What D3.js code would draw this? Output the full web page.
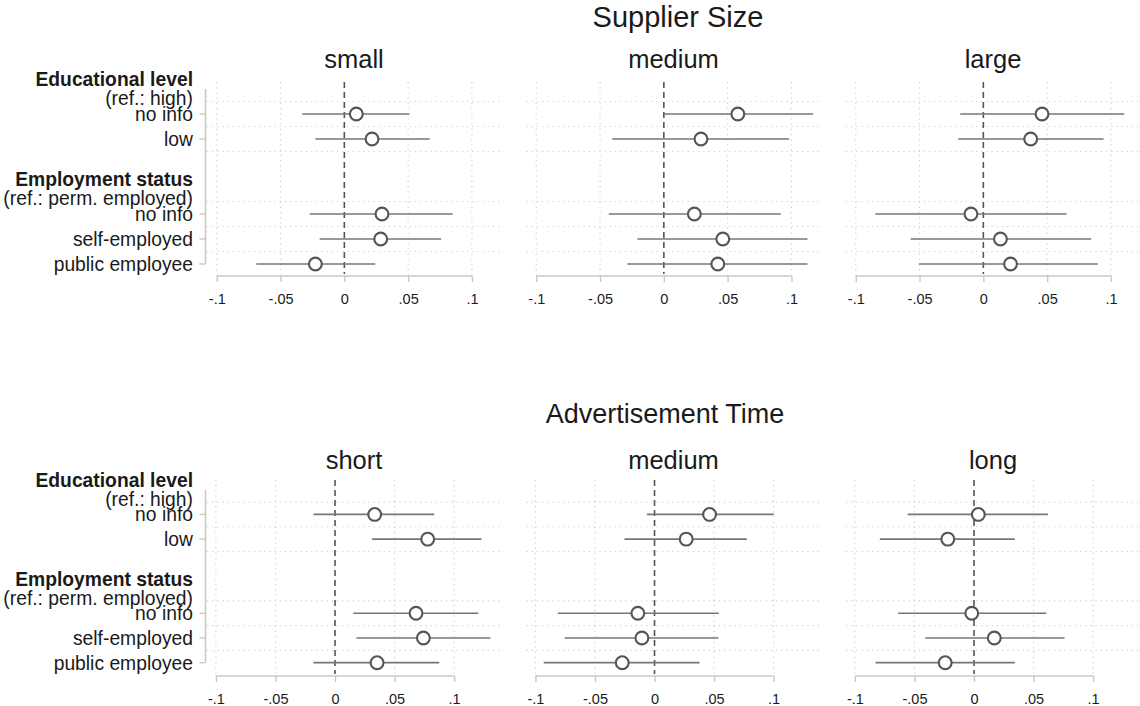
<!DOCTYPE html>
<html>
<head>
<meta charset="utf-8">
<script src="https://cdn.jsdelivr.net/npm/d3@7"></script>
<style>
  body { margin: 0; background: #fff; }
  text { font-family: Arial, "Liberation Sans", sans-serif; fill: #1a1a1a; }
</style>
</head>
<body>
<script>
// coefficient plot, two rows of three panels

var width = 1140,
    height = 706;

// data
var sizePanels = ["small", "medium", "large"];
var timePanels = ["short", "medium", "long"];
var tickValues = [-0.1, -0.05, 0, 0.05, 0.1];
var tickLabels = ["-.1", "-.05", "0", ".05", ".1"];
var slots = ["h_edu", "edu_noinfo", "edu_low", "gap", "h_emp", "emp_noinfo", "emp_self", "emp_public"];
var coefSlots = ["edu_noinfo", "edu_low", "emp_noinfo", "emp_self", "emp_public"];
var coefLabels = ["no info", "low", "no info", "self-employed", "public employee"];
var headings = [
  { slot: "h_edu", lines: ["Educational level", "(ref.: high)"] },
  { slot: "h_emp", lines: ["Employment status", "(ref.: perm. employed)"] }
];

// supplier size: small, medium, large
var sizeEst = [
  [0.0094, 0.0217, 0.0295, 0.0285, -0.0227],
  [0.058, 0.0291, 0.0239, 0.0462, 0.0423],
  [0.046, 0.0371, -0.0097, 0.0134, 0.0213]
];
var sizeLo = [
  [-0.033, -0.0227, -0.0272, -0.0194, -0.069],
  [0.0002, -0.0404, -0.0431, -0.0207, -0.0286],
  [-0.0181, -0.0197, -0.0846, -0.057, -0.0505]
];
var sizeHi = [
  [0.051, 0.0669, 0.0849, 0.0758, 0.0243],
  [0.117, 0.0982, 0.0916, 0.1126, 0.1126],
  [0.1104, 0.0942, 0.0652, 0.0845, 0.0897]
];

// advertisement time: short, medium, long
var timeEst = [
  [0.0333, 0.0778, 0.068, 0.0742, 0.0353],
  [0.0462, 0.0266, -0.014, -0.0106, -0.0271],
  [0.0036, -0.022, -0.0019, 0.017, -0.0242]
];
var timeLo = [
  [-0.0181, 0.0311, 0.0153, 0.018, -0.0181],
  [-0.0064, -0.0252, -0.0812, -0.0755, -0.093],
  [-0.0557, -0.0791, -0.0637, -0.0409, -0.0827]
];
var timeHi = [
  [0.0833, 0.123, 0.1203, 0.1305, 0.0875],
  [0.1002, 0.0775, 0.054, 0.0537, 0.0378],
  [0.062, 0.0343, 0.0607, 0.076, 0.0343]
];

var svg = d3.select("body").append("svg")
    .attr("width", width)
    .attr("height", height);

var panelLeft = [204, 523.5, 843],
    panelWidth = 296;

// one block = title + three panels
var blocks = [
  { title: "Supplier Size", titleSize: 29, titleX: 678, titleY: 27, subY: 68, top: 82, axisY: 276,
    slotRange: [89, 264], xMax: 0.122, panels: sizePanels, est: sizeEst, lo: sizeLo, hi: sizeHi },
  { title: "Advertisement Time", titleSize: 27, titleX: 665, titleY: 423, subY: 469, top: 480, axisY: 676,
    slotRange: [489.7, 662.7], xMax: 0.1385, panels: timePanels, est: timeEst, lo: timeLo, hi: timeHi }
];

blocks.forEach(function(b) {

  svg.append("text")
    .attr("x", b.titleX)
    .attr("y", b.titleY)
    .attr("text-anchor", "middle")
    .style("font-size", b.titleSize + "px")
    .text(b.title);

  var yScale = d3.scalePoint()
      .domain(slots)
      .range(b.slotRange);

  // y labels, only left of the first panel
  var labelX = 193;
  coefSlots.forEach(function(s, i) {
    svg.append("text")
      .attr("x", labelX)
      .attr("y", yScale(s) + 7)
      .attr("text-anchor", "end")
      .style("font-size", "19.3px")
      .text(coefLabels[i]);
  });
  headings.forEach(function(h) {
    svg.append("text")
      .attr("x", labelX)
      .attr("y", yScale(h.slot) - 3)
      .attr("text-anchor", "end")
      .style("font-size", "19.3px")
      .style("font-weight", "bold")
      .text(h.lines[0]);
    svg.append("text")
      .attr("x", labelX)
      .attr("y", yScale(h.slot) + 16)
      .attr("text-anchor", "end")
      .style("font-size", "19.3px")
      .text(h.lines[1]);
  });

  // left axis line with ticks at the coefficients
  var ax = panelLeft[0] + 1.5;
  svg.append("line")
    .attr("x1", ax).attr("x2", ax)
    .attr("y1", yScale(slots[0])).attr("y2", yScale(slots[slots.length - 1]))
    .attr("stroke", "#c8c8c8").attr("stroke-width", 1.6);
  svg.selectAll(null).data(coefSlots).enter().append("line")
    .attr("x1", ax - 6).attr("x2", ax)
    .attr("y1", function(d) { return yScale(d); })
    .attr("y2", function(d) { return yScale(d); })
    .attr("stroke", "#c8c8c8").attr("stroke-width", 1.4);

  b.panels.forEach(function(name, p) {
    var left = panelLeft[p];
    var xScale = d3.scaleLinear()
        .domain([-0.11, b.xMax])
        .range([left, left + panelWidth]);

    var g = svg.append("g");

    // panel subtitle
    g.append("text")
      .attr("x", left + panelWidth / 2 + 2)
      .attr("y", b.subY)
      .attr("text-anchor", "middle")
      .style("font-size", "25.5px")
      .text(name);

    // vertical dotted grid
    g.selectAll(null).data(tickValues.filter(function(v) { return v != 0; })).enter().append("line")
      .attr("x1", function(d) { return xScale(d); })
      .attr("x2", function(d) { return xScale(d); })
      .attr("y1", b.top).attr("y2", b.axisY)
      .attr("stroke", "#d0d0d0").attr("stroke-width", 1.2)
      .attr("stroke-dasharray", "1.2,4");

    // horizontal dotted grid, between rows
    var gridY = [];
    for (var i = 0; i < slots.length - 1; i++) {
      if (i == 3) continue;
      gridY.push((yScale(slots[i]) + yScale(slots[i + 1])) / 2);
    }
    g.selectAll(null).data(gridY).enter().append("line")
      .attr("x1", left + 3).attr("x2", left + panelWidth)
      .attr("y1", function(d) { return d; })
      .attr("y2", function(d) { return d; })
      .attr("stroke", "#d0d0d0").attr("stroke-width", 1.2)
      .attr("stroke-dasharray", "1.2,4");

    // x axis
    var xAxis = d3.axisBottom(xScale)
        .tickValues(tickValues)
        .tickFormat(function(d, i) { return tickLabels[i]; })
        .tickSizeInner(6)
        .tickSizeOuter(0)
        .tickPadding(12);
    var axg = g.append("g")
      .attr("transform", "translate(0," + b.axisY + ")")
      .call(xAxis);
    axg.select(".domain").remove();
    axg.append("line")
      .attr("x1", xScale(-0.1)).attr("x2", xScale(0.1))
      .attr("stroke", "#c8c8c8").attr("stroke-width", 1.6);
    axg.selectAll(".tick line").attr("stroke", "#c8c8c8").attr("stroke-width", 1.4);
    axg.selectAll(".tick text")
      .style("font-size", "14.5px")
      .style("font-family", "Arial, 'Liberation Sans', sans-serif")
      .attr("fill", "#1a1a1a");

    // zero reference line
    g.append("line")
      .attr("x1", xScale(0)).attr("x2", xScale(0))
      .attr("y1", b.top).attr("y2", b.axisY - 2)
      .attr("stroke", "#555").attr("stroke-width", 1.6)
      .attr("stroke-dasharray", "6,4");

    var rows = coefSlots.map(function(s, i) {
      return { slot: s, est: b.est[p][i], lo: b.lo[p][i], hi: b.hi[p][i] };
    });

    // confidence intervals
    g.selectAll(null).data(rows).enter().append("line")
      .attr("x1", function(d) { return xScale(d.lo); })
      .attr("x2", function(d) { return xScale(d.hi); })
      .attr("y1", function(d) { return yScale(d.slot); })
      .attr("y2", function(d) { return yScale(d.slot); })
      .attr("stroke", "#777").attr("stroke-width", 1.7);

    // point estimates, hollow circles
    g.selectAll(null).data(rows).enter().append("circle")
      .attr("cx", function(d) { return xScale(d.est); })
      .attr("cy", function(d) { return yScale(d.slot); })
      .attr("r", 6.4)
      .attr("fill", "#fff")
      .attr("stroke", "#555")
      .attr("stroke-width", 2.1);
  });
});
</script>
</body>
</html>
